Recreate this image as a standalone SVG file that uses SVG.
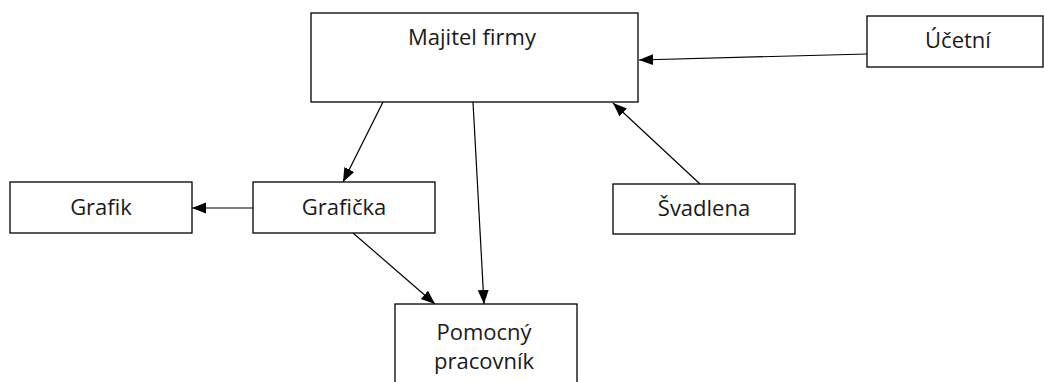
<svg xmlns="http://www.w3.org/2000/svg" width="1044" height="382" viewBox="0 0 1044 382">
<style>
.box{fill:#fff;stroke:#000;stroke-width:1.3}
.lbl{font-family:"Open Sans","Noto Sans",sans-serif;font-size:22px;fill:#1a1a1a;text-anchor:middle}
.edge{stroke:#000;stroke-width:1.2;fill:none;marker-end:url(#ah)}
</style>
<defs>
<marker id="ah" markerUnits="userSpaceOnUse" markerWidth="14" markerHeight="14" viewBox="0 0 14 14" refX="14" refY="7" orient="auto">
<path d="M0,1.5 L14,7 L0,12.5 Z" fill="#000"/>
</marker>
</defs>
<rect width="1044" height="382" fill="#fff"/>
<g id="majitel"><rect class="box" x="311" y="13" width="327" height="89"/><text class="lbl" x="472" y="45">Majitel firmy</text></g>
<g id="ucetni"><rect class="box" x="867" y="16" width="176" height="51"/><text class="lbl" x="958" y="48">Účetní</text></g>
<g id="grafik"><rect class="box" x="10" y="182" width="182" height="51"/><text class="lbl" x="101" y="215">Grafik</text></g>
<g id="graficka"><rect class="box" x="253" y="182" width="182" height="51"/><text class="lbl" x="344" y="215">Grafička</text></g>
<g id="svadlena"><rect class="box" x="613" y="184" width="182" height="50"/><text class="lbl" x="704" y="216">Švadlena</text></g>
<g id="pomocny"><rect class="box" x="395" y="304" width="182" height="90"/><text class="lbl" x="484" y="340">Pomocný</text><text class="lbl" x="484" y="369">pracovník</text></g>
<g id="connectors">
<line class="edge" x1="867" y1="54" x2="639" y2="60"/>
<line class="edge" x1="383" y1="102" x2="343" y2="182"/>
<line class="edge" x1="473" y1="102" x2="484" y2="304"/>
<line class="edge" x1="353" y1="233" x2="435" y2="304"/>
<line class="edge" x1="700" y1="184" x2="613" y2="103"/>
<line class="edge" x1="253" y1="208" x2="192" y2="208"/>
</g>
</svg>
